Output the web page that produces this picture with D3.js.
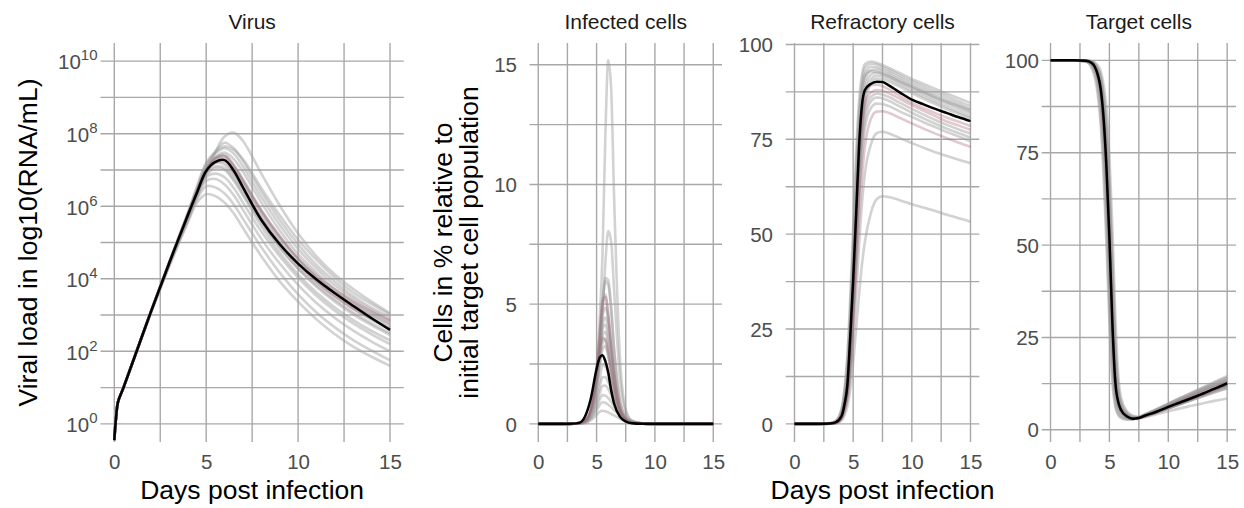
<!DOCTYPE html>
<html><head><meta charset="utf-8">
<script src="https://cdn.jsdelivr.net/npm/d3@7"></script>
<style>body{margin:0;background:#fff;} svg{display:block;font-family:"Liberation Sans",Arial,Helvetica,sans-serif;}</style>
</head><body><svg id="c" width="1244" height="508"></svg>
<script>
// ---------------- DATA ----------------
const panelTitles = ["Virus", "Infected cells", "Refractory cells", "Target cells"];
const dayTicks = [0, 5, 10, 15];
const virusTickExps = [0, 2, 4, 6, 8, 10];
const infectedTicks = [0, 5, 10, 15];
const pctTicks = [0, 25, 50, 75, 100];

// Virus (log10 RNA/mL)
const vDays = [0, 0.1, 0.2, 0.5, 1, 2, 3, 4, 4.5, 5, 5.5, 6, 6.5, 7, 8, 9, 10, 11, 12, 13, 14, 15];
const vFit = [-0.45,0.2,0.6,1.0,1.7,3.1,4.45,5.75,6.38,6.97,7.22,7.27,6.98,6.52,5.62,4.95,4.42,3.98,3.6,3.25,2.91,2.59];
const vSims = [
 [-0.45,0.2,0.6,1.0,1.7,3.1,4.45,5.7,6.3,6.95,7.5,7.92,8.03,7.8,6.9,6.02,5.25,4.62,4.12,3.72,3.37,3.05],
 [-0.45,0.2,0.6,1.0,1.7,3.1,4.45,5.78,6.45,7.1,7.5,7.75,7.6,7.25,6.4,5.62,4.95,4.38,3.92,3.52,3.2,2.95],
 [-0.45,0.2,0.6,1.0,1.7,3.1,4.47,5.8,6.5,7.15,7.45,7.6,7.45,7.1,6.25,5.48,4.82,4.28,3.82,3.45,3.14,2.87],
 [-0.45,0.2,0.6,1.0,1.7,3.1,4.48,5.82,6.55,7.2,7.5,7.65,7.55,7.3,6.5,5.75,5.08,4.52,4.03,3.62,3.3,3.02],
 [-0.45,0.2,0.6,1.0,1.7,3.1,4.45,5.75,6.42,7.02,7.35,7.48,7.3,6.95,6.1,5.33,4.68,4.17,3.72,3.36,3.06,2.8],
 [-0.45,0.2,0.6,1.0,1.7,3.1,4.45,5.75,6.4,7.0,7.35,7.42,7.15,6.75,5.9,5.17,4.55,4.05,3.63,3.28,2.98,2.72],
 [-0.45,0.2,0.6,1.0,1.7,3.1,4.46,5.78,6.45,7.05,7.33,7.38,7.1,6.7,5.85,5.12,4.52,4.03,3.63,3.3,3.01,2.76],
 [-0.45,0.2,0.6,1.0,1.7,3.1,4.45,5.75,6.4,7.0,7.3,7.3,7.0,6.6,5.75,5.02,4.42,3.93,3.52,3.17,2.87,2.6],
 [-0.45,0.2,0.6,1.0,1.7,3.1,4.44,5.72,6.38,6.95,7.2,7.15,6.85,6.45,5.6,4.88,4.28,3.78,3.37,3.02,2.72,2.45],
 [-0.45,0.2,0.6,1.0,1.7,3.1,4.44,5.72,6.35,6.9,7.1,7.05,6.75,6.35,5.55,4.86,4.28,3.82,3.42,3.07,2.77,2.5],
 [-0.45,0.2,0.6,1.0,1.7,3.1,4.43,5.7,6.32,6.85,7.05,7.0,6.7,6.3,5.45,4.72,4.12,3.62,3.21,2.86,2.56,2.3],
 [-0.45,0.2,0.6,1.0,1.7,3.1,4.42,5.68,6.3,6.8,6.9,6.8,6.5,6.1,5.3,4.62,4.03,3.53,3.12,2.77,2.47,2.2],
 [-0.45,0.2,0.6,1.0,1.7,3.1,4.4,5.65,6.25,6.7,6.75,6.6,6.3,5.9,5.1,4.42,3.83,3.33,2.92,2.57,2.27,2.0],
 [-0.45,0.2,0.6,1.0,1.7,3.08,4.38,5.6,6.2,6.55,6.52,6.35,6.05,5.65,4.87,4.17,3.57,3.07,2.66,2.31,2.02,1.75],
 [-0.45,0.2,0.6,1.0,1.7,3.05,4.35,5.55,6.1,6.33,6.28,6.1,5.8,5.4,4.62,3.93,3.37,2.88,2.47,2.13,1.85,1.6]
];
const vRed = [
 [-0.45,0.2,0.6,1.0,1.7,3.1,4.45,5.76,6.4,7.0,7.3,7.38,7.1,6.7,5.87,5.17,4.57,4.1,3.7,3.38,3.1,2.85],
 [-0.45,0.2,0.6,1.0,1.7,3.1,4.45,5.74,6.37,6.95,7.2,7.22,6.92,6.5,5.67,4.97,4.37,3.9,3.51,3.18,2.9,2.65]
];

// Infected cells (%)
const iDays = [0, 2, 3, 3.5, 4, 4.5, 5, 5.25, 5.5, 5.75, 6, 6.25, 6.5, 7, 7.5, 8, 9, 10, 12, 15];
const iFit = [0,0,0.01,0.04,0.3,1.05,2.3,2.75,2.87,2.62,2.15,1.4,0.85,0.3,0.1,0.03,0.005,0,0,0];
const iSims = [
 [0,0,0.01,0.02,0.1,0.5,2.2,4.2,7.0,12.0,15.2,14.0,9.5,2.8,0.6,0.15,0.01,0,0,0],
 [0,0,0.01,0.02,0.07,0.35,1.5,2.7,4.5,6.7,8.05,7.6,5.6,1.9,0.5,0.13,0.01,0,0,0],
 [0,0,0.01,0.03,0.1,0.5,1.9,3.2,4.9,6.1,6.0,4.9,3.2,1.0,0.3,0.08,0.01,0,0,0],
 [0,0,0.01,0.03,0.12,0.55,2.0,3.3,4.9,5.95,5.8,4.7,3.1,0.95,0.28,0.07,0.01,0,0,0],
 [0,0,0.01,0.03,0.12,0.6,2.3,3.7,5.2,5.4,4.6,3.4,2.2,0.7,0.2,0.06,0.01,0,0,0],
 [0,0,0.01,0.03,0.1,0.5,2.0,3.2,4.5,4.85,4.3,3.2,2.1,0.7,0.2,0.06,0.01,0,0,0],
 [0,0,0.01,0.03,0.1,0.5,1.85,2.95,4.1,4.45,3.95,3.0,2.0,0.7,0.22,0.07,0.01,0,0,0],
 [0,0,0.01,0.03,0.1,0.5,1.8,2.85,3.9,4.15,3.6,2.7,1.8,0.62,0.2,0.06,0.01,0,0,0],
 [0,0,0.01,0.03,0.1,0.5,1.7,2.7,3.65,3.85,3.3,2.5,1.7,0.6,0.2,0.06,0.01,0,0,0],
 [0,0,0.01,0.03,0.1,0.45,1.6,2.5,3.35,3.55,3.05,2.3,1.6,0.58,0.2,0.06,0.01,0,0,0],
 [0,0,0.01,0.03,0.1,0.45,1.5,2.35,3.1,3.25,2.8,2.15,1.5,0.56,0.2,0.07,0.01,0,0,0],
 [0,0,0.01,0.03,0.1,0.4,1.2,1.8,2.45,2.4,2.1,1.7,1.25,0.55,0.22,0.08,0.01,0,0,0],
 [0,0,0.01,0.03,0.08,0.35,1.0,1.5,1.95,1.95,1.75,1.45,1.1,0.55,0.25,0.1,0.02,0,0,0],
 [0,0,0.01,0.03,0.07,0.3,0.85,1.25,1.58,1.6,1.45,1.2,0.95,0.5,0.23,0.1,0.02,0,0,0],
 [0,0,0.01,0.02,0.06,0.25,0.7,1.0,1.2,1.18,1.08,0.92,0.75,0.42,0.2,0.09,0.02,0,0,0],
 [0,0,0.01,0.02,0.05,0.22,0.55,0.78,0.9,0.88,0.8,0.7,0.58,0.35,0.18,0.08,0.02,0,0,0],
 [0,0,0.01,0.02,0.04,0.15,0.38,0.5,0.55,0.53,0.48,0.42,0.35,0.22,0.12,0.06,0.02,0,0,0]
];
const iRed = [
 [0,0,0.01,0.03,0.12,0.6,2.2,3.6,5.0,5.3,4.5,3.3,2.1,0.65,0.2,0.06,0.01,0,0,0],
 [0,0,0.01,0.03,0.12,0.55,1.9,2.9,3.6,3.5,2.9,2.1,1.4,0.5,0.17,0.05,0.01,0,0,0]
];

// Refractory cells (%)
const rDays = [0, 2, 3, 3.5, 4, 4.25, 4.5, 4.75, 5, 5.25, 5.5, 5.75, 6, 6.5, 7, 7.5, 8, 9, 10, 11, 12, 13, 14, 15];
const rFit = [0,0,0.1,0.4,2,5,10,23,38,55,73,84,88,89.6,90.2,90.1,89.3,87.3,85.45,84.2,83.0,81.9,80.8,79.8];
const rSims = [
 [0,0,0.2,0.8,4,9,18,33,52,71,85,92,94.8,95.5,95.2,94.6,93.9,92.4,90.9,89.6,88.3,87.0,85.8,84.6],
 [0,0,0.15,0.7,3.5,8,16,30,48,67,82,90,93.8,94.9,94.7,94.1,93.4,91.8,90.3,88.9,87.6,86.3,85.0,83.8],
 [0,0,0.1,0.5,2.8,6.5,13,25,42,61,77,87,92.2,94.1,94.0,93.5,92.8,91.2,89.6,88.2,86.9,85.6,84.3,83.0],
 [0,0,0.12,0.6,3.2,7.5,15,28,46,65,80,88.5,91.8,92.9,92.8,92.3,91.7,90.2,88.8,87.4,86.1,84.9,83.8,82.7],
 [0,0,0.1,0.45,2.5,6,12,23,39,57,74,85,90.5,93.2,93.4,92.9,92.2,90.6,89.0,87.6,86.2,84.9,83.6,82.3],
 [0,0,0.08,0.35,2,5,10,20,35,53,70,82,88.5,92.0,92.6,92.2,91.6,90.0,88.5,87.0,85.6,84.3,83.0,81.8],
 [0,0,0.06,0.3,1.7,4.2,8.5,17,31,49,66,79,86.5,90.8,91.8,91.6,91.0,89.4,87.8,86.3,84.9,83.5,82.2,81.0],
 [0,0,0.05,0.25,1.4,3.5,7.5,15,28,45,62,76,84.5,89.6,91.0,90.9,90.3,88.8,87.2,85.7,84.3,82.9,81.7,80.5],
 [0,0,0.08,0.35,2,5,10,19,33,50,65,76,82.5,86.2,87.0,86.8,86.2,84.6,83.0,81.5,80.1,78.8,77.6,76.5],
 [0,0,0.06,0.3,1.8,4.5,9,18,31,47,62,73,80.5,85.0,86.0,85.8,85.2,83.6,82.0,80.5,79.1,77.8,76.6,75.5],
 [0,0,0.05,0.25,1.5,4,8,16,29,44,59,70,78,83.2,84.4,84.3,83.8,82.3,80.9,79.5,78.2,76.9,75.7,74.5],
 [0,0,0.04,0.2,1.2,3,6,12,22,34,47,58,66,73.5,76.6,77.0,76.6,75.3,74.0,72.8,71.6,70.6,69.6,68.7],
 [0,0,0.03,0.15,0.9,2.2,4.5,9,16,25,34,42,48,55.5,59.2,60.0,59.8,58.9,57.9,57.0,56.1,55.1,54.2,53.3]
];
const rRed = [
 [0,0,0.1,0.4,2.2,5.5,11,21,36,53,68,79,84.5,87.3,88.0,87.8,87.2,85.6,84.0,82.5,81.1,79.7,78.6,77.5],
 [0,0,0.05,0.22,1.4,3.6,7.2,14.5,26,40,54,65,73,80.3,82.3,82.4,82.0,80.6,79.2,77.8,76.5,75.3,74.1,73.0],
 [0,0,0.08,0.35,1.8,4.6,9.2,21,36,54,72,83,87.5,89.2,89.4,89.0,88.2,86.4,84.6,83.2,81.9,80.7,79.6,78.5]
];

// Target cells (%)
const tDays = [0, 2, 3, 3.5, 4, 4.25, 4.5, 4.75, 5, 5.25, 5.5, 5.75, 6, 6.5, 7, 7.5, 8, 9, 10, 11, 12, 13, 14, 15];
const tFit = [100,100,99.9,99.3,96.2,92.5,84.5,71,52,29,13,7.5,5.3,3.6,3.0,3.2,3.8,4.9,6.2,7.4,8.6,9.9,11.2,12.6];
const tSims = [
 [100,100,99.8,98.8,94,88,77,60,39,19,8.5,5,3.8,3.0,2.9,3.3,4.0,5.4,6.8,8.2,9.6,11.0,12.3,13.5],
 [100,100,99.7,98.3,92.5,85,72,54,33,15,7,4.3,3.4,2.8,2.9,3.4,4.1,5.5,7.0,8.4,9.8,11.2,12.6,14.0],
 [100,100,99.95,99.6,97.5,95,89,79,63,41,20,10,6.5,4.2,3.3,3.2,3.6,4.6,5.8,7.0,8.2,9.4,10.6,11.8],
 [100,100,99.95,99.7,98,96,91,83,68,47,25,12,7.5,4.6,3.6,3.4,3.7,4.7,5.9,7.1,8.3,9.5,10.7,11.9],
 [100,100,99.9,99.2,96,92,83,69,49,27,12,7,5.0,3.5,3.0,3.2,3.9,5.2,6.6,8.0,9.4,10.8,12.1,13.4],
 [100,100,99.85,99.0,95.5,91,81,66,46,24,11,6.3,4.6,3.3,2.9,3.3,4.0,5.5,7.0,8.6,10.1,11.6,13.1,14.5],
 [100,100,99.9,99.3,96.5,93,85.5,72,53,30,14,8,5.6,3.8,3.1,3.1,3.4,4.2,5.0,5.8,6.5,7.2,7.9,8.5],
 [100,100,99.9,99.4,96.8,93.5,86,73,55,32,15,8.5,6,4.0,3.3,3.3,3.8,4.8,5.9,7.0,8.1,9.2,10.2,11.2],
 [100,100,99.8,98.9,95,90,80,64,43,22,10,6,4.4,3.3,3.0,3.3,3.9,5.2,6.5,7.9,9.2,10.5,11.8,13.0],
 [100,100,99.95,99.6,97.8,95.5,90,81,65,44,22,11,7,4.4,3.4,3.3,3.7,4.8,6.0,7.3,8.6,9.9,11.1,12.3],
 [100,100,99.85,99.1,95.2,90.5,80.5,65,45,23,10.5,6.2,4.5,3.3,3.0,3.3,3.9,5.3,6.7,8.1,9.5,10.9,12.2,13.6],
 [100,100,99.9,99.5,97.2,94.5,88,77,59,37,18,9.5,6.2,4.1,3.2,3.2,3.6,4.6,5.8,7.0,8.2,9.4,10.6,11.7],
 [100,100,99.6,97.8,91,83,69,50,29,13,6.2,4,3.2,2.8,2.9,3.4,4.2,5.6,7.1,8.6,10.0,11.4,12.8,14.2],
 [100,100,99.97,99.8,98.6,97.2,93.5,87,74,55,31,15,8.5,5.0,3.8,3.5,3.7,4.6,5.7,6.9,8.0,9.1,10.2,11.3]
];
const tRed = [
 [100,100,99.9,99.2,95.8,91.8,83,69,50,27.5,12.5,7.3,5.2,3.6,3.0,3.3,3.9,5.1,6.4,7.8,9.1,10.4,11.7,13.0],
 [100,100,99.9,99.4,96.6,93.2,86,73,54,31,14.5,8,5.6,3.8,3.1,3.2,3.7,4.8,6.0,7.2,8.4,9.6,10.9,12.1]
];

// ---------------- DRAW ----------------
const svg = d3.select("#c");
svg.append("rect").attr("width", 1244).attr("height", 508).attr("fill", "#fff");
const PT = 43, PB = 442;
const GRID = "#a8a8a8";
const FONT_TICK = 20.5, FONT_STRIP = 21, FONT_TITLE = 26.5;

const pan = [
  {x0: 100.5, x1: 403.8, y: d3.scaleLog().domain([Math.pow(10, -0.5), Math.pow(10, 10.5)]).range([PB, PT]),
   days: vDays, fit: vFit, sims: vSims, red: vRed, tf: v => Math.pow(10, v), curve: d3.curveCatmullRom.alpha(0.5),
   yMajor: virusTickExps.map(e => Math.pow(10, e)), yMinor: [1,3,5,7,9].map(e => Math.pow(10, e)), labRight: 97.5},
  {x0: 529.5, x1: 722, y: d3.scaleLinear().domain([-0.7575, 15.9075]).range([PB, PT]),
   days: iDays, fit: iFit, sims: iSims, red: iRed, tf: v => v, curve: d3.curveMonotoneX,
   yMajor: infectedTicks, yMinor: [2.5, 7.5, 12.5], labRight: 517},
  {x0: 785.7, x1: 979.3, y: d3.scaleLinear().domain([-4.78, 100.38]).range([PB, PT]),
   days: rDays, fit: rFit, sims: rSims, red: rRed, tf: v => v, curve: d3.curveMonotoneX,
   yMajor: pctTicks, yMinor: [12.5, 37.5, 62.5, 87.5], labRight: 773},
  {x0: 1041.7, x1: 1236, y: d3.scaleLinear().domain([-3.3, 104.7]).range([PB, PT]),
   days: tDays, fit: tFit, sims: tSims, red: tRed, tf: v => v, curve: d3.curveMonotoneX,
   yMajor: pctTicks, yMinor: [12.5, 37.5, 62.5, 87.5], labRight: 1039}
];

pan.forEach((p, k) => {
  const x = d3.scaleLinear().domain([-0.75, 15.75]).range([p.x0, p.x1]);
  const y = p.y;
  const g = svg.append("g");
  // grid
  const xg = dayTicks.concat([2.5, 7.5, 12.5]);
  g.selectAll(".vg").data(xg).join("line")
    .attr("x1", d => x(d)).attr("x2", d => x(d)).attr("y1", PT).attr("y2", PB)
    .attr("stroke", GRID).attr("stroke-width", 1.4);
  g.selectAll(".hg").data(p.yMajor.concat(p.yMinor)).join("line")
    .attr("x1", p.x0).attr("x2", p.x1).attr("y1", d => y(d)).attr("y2", d => y(d))
    .attr("stroke", GRID).attr("stroke-width", 1.4);

  const line = d3.line().x(d => x(d[0])).y(d => y(p.tf(d[1]))).curve(p.curve);
  const mk = arr => p.days.map((d, i) => [d, arr[i]]);
  g.selectAll(".sim").data(p.sims).join("path")
    .attr("d", s => line(mk(s))).attr("fill", "none")
    .attr("stroke", "#9c9c9c").attr("stroke-opacity", 0.45).attr("stroke-width", 2.6)
    .attr("stroke-linejoin", "round");
  g.selectAll(".red").data(p.red).join("path")
    .attr("d", s => line(mk(s))).attr("fill", "none")
    .attr("stroke", "#9a5060").attr("stroke-opacity", 0.3).attr("stroke-width", 2.6)
    .attr("stroke-linejoin", "round");
  g.append("path").attr("d", line(mk(p.fit))).attr("fill", "none")
    .attr("stroke", "#000").attr("stroke-width", 2.5).attr("stroke-linejoin", "round");

  // x axis labels
  const ax = g.append("g").attr("transform", `translate(0,${PB})`)
    .call(d3.axisBottom(x).tickValues(dayTicks).tickSize(0).tickPadding(0).tickFormat(d3.format("d")));
  ax.select(".domain").remove();
  ax.selectAll("text").attr("dy", null).attr("y", 26.8)
    .attr("font-size", FONT_TICK).attr("fill", "#4d4d4d").attr("font-family", null);

  // y axis labels
  const ay = g.append("g").attr("transform", `translate(${p.labRight},0)`)
    .call(d3.axisLeft(y).tickValues(p.yMajor).tickSize(0).tickPadding(0)
      .tickFormat(k === 0 ? () => "" : d3.format("d")));
  ay.select(".domain").remove();
  ay.selectAll("text").attr("x", 0).attr("dy", "0.35em")
    .attr("font-size", FONT_TICK).attr("fill", "#4d4d4d").attr("font-family", null);
  if (k === 0) {
    ay.selectAll("text").each(function(d) {
      const t = d3.select(this);
      t.append("tspan").text("10").attr("dy", "0.38em");
      t.append("tspan").text(String(Math.round(Math.log10(d)))).attr("font-size", 15).attr("dy", "-0.6em");
    }).attr("dy", null);
  }

  // strip title
  svg.append("text").attr("x", (p.x0 + p.x1) / 2).attr("y", 29).attr("text-anchor", "middle")
    .attr("font-size", FONT_STRIP).attr("fill", "#1a1a1a").text(panelTitles[k]);
});

// axis titles
svg.append("text").attr("x", (pan[0].x0 + pan[0].x1) / 2).attr("y", 499).attr("text-anchor", "middle")
  .attr("font-size", FONT_TITLE).attr("fill", "#000").text("Days post infection");
svg.append("text").attr("x", (pan[2].x0 + pan[2].x1) / 2).attr("y", 499).attr("text-anchor", "middle")
  .attr("font-size", FONT_TITLE).attr("fill", "#000").text("Days post infection");
svg.append("text").attr("transform", "translate(37,242.5) rotate(-90)").attr("text-anchor", "middle")
  .attr("font-size", FONT_TITLE).attr("fill", "#000").text("Viral load in log10(RNA/mL)");
svg.append("text").attr("transform", "translate(452,242.5) rotate(-90)").attr("text-anchor", "middle")
  .attr("font-size", FONT_TITLE).attr("fill", "#000").text("Cells in % relative to");
svg.append("text").attr("transform", "translate(478,242.5) rotate(-90)").attr("text-anchor", "middle")
  .attr("font-size", FONT_TITLE).attr("fill", "#000").text("initial target cell population");
</script></body></html>
